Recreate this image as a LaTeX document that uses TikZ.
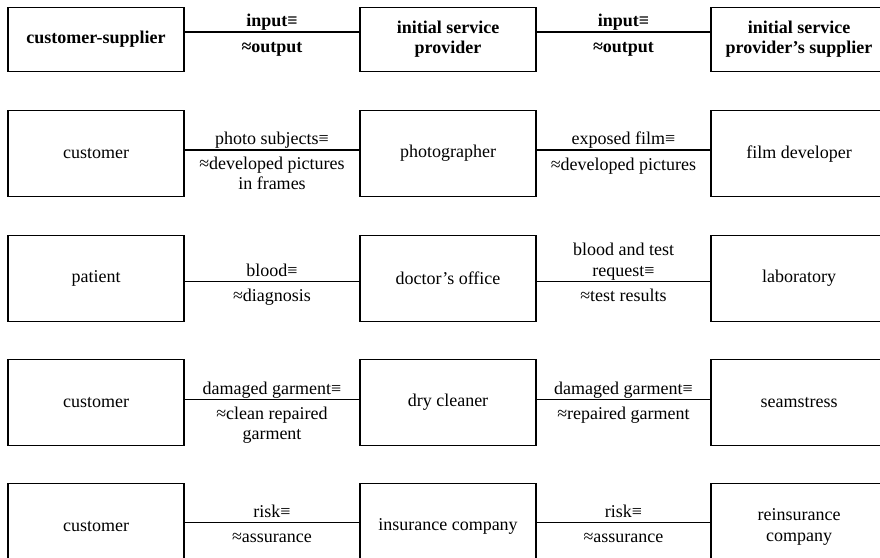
\documentclass[tikz,border=0pt]{standalone}
\usepackage{fontspec}
\setmainfont{Liberation Serif}
\usetikzlibrary{positioning}
\tikzset{
  box/.style={draw, line width=1.1pt, outer sep=0pt, minimum width=176pt, minimum height=86pt, align=center, inner sep=0pt},
  head/.style={box, minimum height=63.7pt, font=\fontsize{18}{20.5}\selectfont\bfseries},
  inlab/.style={midway, anchor=south, align=center, inner sep=0pt, execute at end node={\rule[-5pt]{0pt}{5pt}}},
  outlab/.style={midway, anchor=north, align=center, inner sep=0pt, yshift=-6.5pt, execute at begin node={\rule{0pt}{13pt}}},
  link/.style={line width=1.1pt}
}
\begin{document}
\begin{tikzpicture}[font=\fontsize{18}{20.5}\selectfont]
\useasboundingbox (0,0) rectangle (880pt,-557pt);
\clip (0,0) rectangle (880pt,-557pt);

\node[head] (cs) at (96pt,-39.2pt) {customer-supplier};
\node[head, right=176pt of cs] (isp) {initial service\\provider};
\node[head, right=175pt of isp] (ispsup) {initial service\\provider’s supplier};

\node[box, below=39.6pt of cs] (cust) {customer};
\node[box, right=176pt of cust] (photo) {photographer};
\node[box, right=175pt of photo] (film) {film developer};

\node[box, below=38.4pt of cust] (pat) {patient};
\node[box, right=176pt of pat] (doc) {doctor’s office};
\node[box, right=175pt of doc] (lab) {laboratory};

\node[box, below=38.4pt of pat] (cust2) {customer};
\node[box, right=176pt of cust2] (dry) {dry cleaner};
\node[box, right=175pt of dry] (seam) {seamstress};

\node[box, below=38.4pt of cust2] (cust3) {customer};
\node[box, right=176pt of cust3] (ins) {insurance company};
\node[box, right=175pt of ins] (reins) {reinsurance\\company};

\draw[link] ([yshift=7.2pt]cs.east) -- ([yshift=7.2pt]isp.west)
  node[inlab, font=\fontsize{18}{20.5}\selectfont\bfseries] {input≡}
  node[outlab, font=\fontsize{18}{20.5}\selectfont\bfseries] {≈output};
\draw[link] ([yshift=7.2pt]isp.east) -- ([yshift=7.2pt]ispsup.west)
  node[inlab, font=\fontsize{18}{20.5}\selectfont\bfseries] {input≡}
  node[outlab, font=\fontsize{18}{20.5}\selectfont\bfseries] {≈output};

\draw[link] ([yshift=3.7pt]cust.east) -- ([yshift=3.7pt]photo.west)
  node[inlab] {photo subjects≡}
  node[outlab] {≈developed pictures\\in frames};
\draw[link] ([yshift=3.7pt]photo.east) -- ([yshift=3.7pt]film.west)
  node[inlab] {exposed film≡}
  node[outlab] {≈developed pictures};

\draw[link] ([yshift=-3.5pt]pat.east) -- ([yshift=-3.5pt]doc.west)
  node[inlab] {blood≡}
  node[outlab] {≈diagnosis};
\draw[link] ([yshift=-3.5pt]doc.east) -- ([yshift=-3.5pt]lab.west)
  node[inlab] {blood and test\\request≡}
  node[outlab] {≈test results};

\draw[link] ([yshift=2.7pt]cust2.east) -- ([yshift=2.7pt]dry.west)
  node[inlab] {damaged garment≡}
  node[outlab] {≈clean repaired\\garment};
\draw[link] ([yshift=2.7pt]dry.east) -- ([yshift=2.7pt]seam.west)
  node[inlab] {damaged garment≡}
  node[outlab] {≈repaired garment};

\draw[link] ([yshift=4.3pt]cust3.east) -- ([yshift=4.3pt]ins.west)
  node[inlab] {risk≡}
  node[outlab] {≈assurance};
\draw[link] ([yshift=4.3pt]ins.east) -- ([yshift=4.3pt]reins.west)
  node[inlab] {risk≡}
  node[outlab] {≈assurance};
\end{tikzpicture}
\end{document}
